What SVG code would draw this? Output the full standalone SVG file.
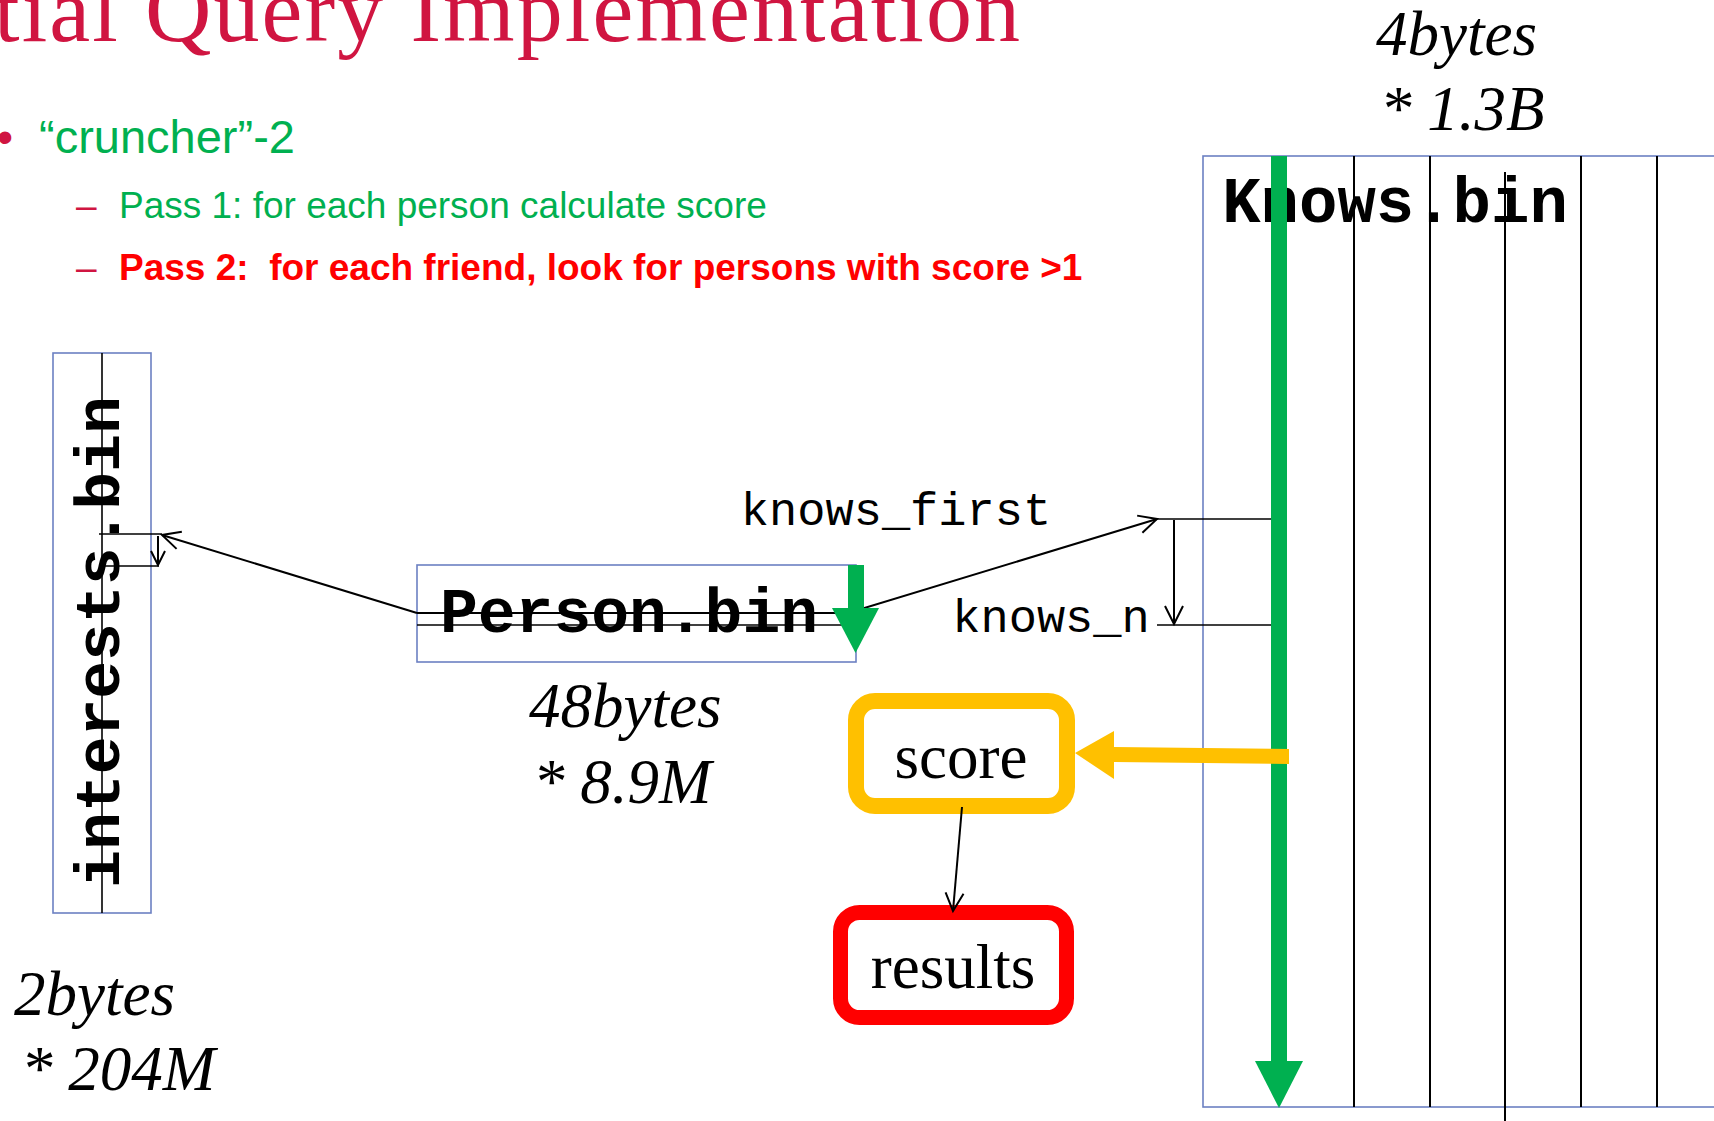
<svg xmlns="http://www.w3.org/2000/svg" width="1714" height="1121" viewBox="0 0 1714 1121">
  <style>
    .box { fill: none; stroke: #6C80C2; stroke-width: 1.6; }
    .file { font-family: "Liberation Mono", "Courier New", monospace; font-weight: bold; fill: #000; }
    .field { font-family: "Liberation Mono", "Courier New", monospace; fill: #000; font-size: 47px; }
    .size { font-family: "Liberation Serif", "Times New Roman", serif; font-style: italic; font-size: 63px; fill: #000; }
    .label { font-family: "Liberation Serif", "Times New Roman", serif; font-size: 63px; fill: #000; }
    .sans { font-family: "Liberation Sans", Arial, sans-serif; }
    .thin { stroke: #000; stroke-width: 1.6; fill: none; }
    .conn { stroke: #000; stroke-width: 2; fill: none; }
  </style>
  <defs>
    <marker id="open" markerUnits="userSpaceOnUse" markerWidth="24" markerHeight="24" refX="20" refY="11" orient="auto">
      <path d="M2,2 L20,11 L2,20" fill="none" stroke="#000" stroke-width="2"/>
    </marker>
    <marker id="openSmall" markerUnits="userSpaceOnUse" markerWidth="20" markerHeight="20" refX="16" refY="9" orient="auto">
      <path d="M2,2 L16,9 L2,16" fill="none" stroke="#000" stroke-width="2"/>
    </marker>
  </defs>

  <rect width="1714" height="1121" fill="#fff"/>

  <!-- slide heading and bullets -->
  <g id="heading">
    <text x="-6" y="41" font-family="Liberation Serif, Times New Roman, serif" font-size="92" fill="#D01541" textLength="1026" lengthAdjust="spacing">tial Query Implementation</text>
    <text class="sans" x="-3" y="153" font-size="46" fill="#D01541">•</text>
    <text class="sans" x="39" y="153" font-size="47" fill="#00B050">“cruncher”-2</text>
    <text class="sans" x="76" y="218" font-size="37" fill="#D01541">–</text>
    <text class="sans" x="119" y="218" font-size="37" fill="#00B050">Pass 1: for each person calculate score</text>
    <text class="sans" x="76" y="280" font-size="37" fill="#D01541">–</text>
    <text class="sans" x="119" y="280" font-size="37" font-weight="bold" fill="#FF0000" xml:space="preserve">Pass 2:  for each friend, look for persons with score &gt;1</text>
  </g>

  <!-- interests.bin: narrow vertical file -->
  <g id="interests">
    <rect class="box" x="53" y="353" width="98" height="560"/>
    <text class="file" font-size="63" text-anchor="middle" transform="translate(119,642) rotate(-90)">interests.bin</text>
    <line class="thin" x1="102" y1="353" x2="102" y2="913"/>
    <line class="thin" x1="99" y1="534" x2="162" y2="534"/>
    <line class="thin" x1="99" y1="566" x2="159" y2="566"/>
  </g>

  <!-- Person.bin -->
  <g id="person">
    <rect class="box" x="417" y="565" width="439" height="97"/>
    <text class="file" x="629" y="632" font-size="63" text-anchor="middle">Person.bin</text>
  </g>

  <!-- Knows.bin: wide file with column stripes -->
  <g id="knows">
    <rect class="box" x="1203" y="156" width="620" height="951"/>
    <text class="file" x="1395" y="222" font-size="64" text-anchor="middle">Knows.bin</text>
    <line class="conn" x1="1354" y1="156" x2="1354" y2="1107"/>
    <line class="conn" x1="1430" y1="156" x2="1430" y2="1107"/>
    <line class="conn" x1="1505" y1="172" x2="1505" y2="1121"/>
    <line class="conn" x1="1581" y1="156" x2="1581" y2="1107"/>
    <line class="conn" x1="1657" y1="156" x2="1657" y2="1107"/>
    <line class="thin" x1="1157" y1="519" x2="1272" y2="519"/>
    <line class="thin" x1="1157" y1="625" x2="1272" y2="625"/>
    <text class="field" x="896" y="525" text-anchor="middle">knows_first</text>
    <text class="field" x="1051" y="632" text-anchor="middle">knows_n</text>
  </g>

  <!-- score -->
  <g id="score">
    <rect x="856" y="701" width="211" height="105" rx="19" fill="#fff" stroke="#FFC000" stroke-width="16"/>
    <text class="label" x="961" y="778" text-anchor="middle">score</text>
  </g>

  <!-- results -->
  <g id="results">
    <rect x="840.5" y="912.5" width="226" height="105" rx="19" fill="#fff" stroke="#FF0000" stroke-width="15"/>
    <text class="label" x="953" y="988" text-anchor="middle">results</text>
  </g>

  <!-- size annotations -->
  <g id="sizes">
    <text class="size" x="1376" y="55">4bytes</text>
    <text class="size" x="1380" y="130">* 1.3B</text>
    <text class="size" x="529" y="727">48bytes</text>
    <text class="size" x="533" y="803">* 8.9M</text>
    <text class="size" x="14" y="1015">2bytes</text>
    <text class="size" x="21" y="1090">* 204M</text>
  </g>

  <!-- connectors -->
  <g id="connectors">
    <line class="thin" x1="417" y1="625" x2="846" y2="625"/>
    <polyline class="conn" points="417,613 848,613 1157,519" marker-end="url(#open)"/>
    <line class="conn" x1="417" y1="613" x2="162" y2="535" marker-end="url(#open)"/>
    <line class="conn" x1="158" y1="536" x2="158" y2="565" marker-end="url(#openSmall)"/>
    <line class="conn" x1="1174" y1="520" x2="1174" y2="624" marker-end="url(#open)"/>
    <line class="conn" x1="962" y1="807" x2="953" y2="911" marker-end="url(#open)"/>

    <!-- scan arrows -->
    <rect x="848" y="565" width="16" height="44" fill="#00B050"/>
    <polygon points="832,608 879,608 855.5,653" fill="#00B050"/>
    <rect x="1271" y="156" width="16" height="906" fill="#00B050"/>
    <polygon points="1255,1061 1303,1061 1279,1108" fill="#00B050"/>

    <polygon points="1289,749 1289,764 1114,762 1114,779 1075,753 1114,731 1114,747" fill="#FFC000"/>
  </g>
</svg>
